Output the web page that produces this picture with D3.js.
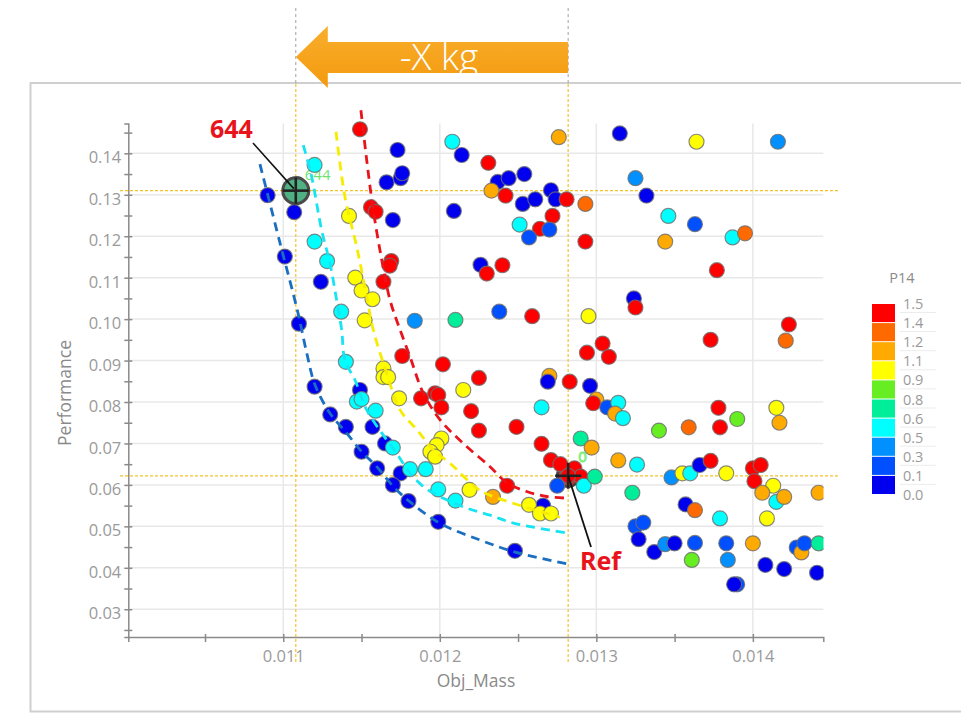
<!DOCTYPE html>
<html lang="en">
<head>
<meta charset="UTF-8">
<title>Performance vs Obj_Mass</title>
<script src="https://d3js.org/d3.v7.min.js"></script>
<style>
  body { margin: 0; background: #fff; }
  svg { display: block; font-family: "Open Sans", "Noto Sans", sans-serif; }
</style>
</head>
<body>
<div id="chart"></div>
<script>
// ---- data ----
var mass = [0.01149,0.01173,0.01208,0.01214,0.01231,0.01120,0.01166,0.01175,0.01176,0.01090,
  0.01109,0.01107,0.01142,0.01156,0.01159,0.01170,0.01209,0.01120,0.01101,0.01128,
  0.01169,0.01168,0.01124,0.01146,0.01150,0.01157,0.01164,0.01226,0.01230,0.01240,
  0.01137,0.01152,0.01110,0.01184,0.01210,0.01140,0.01176,0.01202,0.01225,0.01164,
  0.01164,0.01167,0.01120,0.01149,0.01147,0.01150,0.01174,0.01215,0.01188,0.01197,
  0.01199,0.01201,0.01220,0.01225,0.01159,0.01130,0.01140,0.01157,0.01165,0.01170,
  0.01201,0.01198,0.01194,0.01197,0.01150,0.01160,0.01175,0.01181,0.01191,0.01170,
  0.01199,0.01219,0.01234,0.01180,0.01210,0.01199,0.01259,0.01304,0.01294,0.01308,
  0.01270,0.01269,0.01283,0.01296,0.01300,0.01298,0.01307,0.01314,0.01312,0.01317,
  0.01265,0.01249,0.01265,0.01290,0.01297,0.01271,0.01277,0.01286,0.01290,0.01282,
  0.01275,0.01292,0.01299,0.01314,0.01326,0.01323,0.01243,0.01266,0.01257,0.01264,
  0.01271,0.01248,0.01325,0.01330,0.01327,0.01373,0.01421,0.01340,0.01359,0.01378,
  0.01379,0.01390,0.01415,0.01417,0.01348,0.01355,0.01360,0.01366,0.01373,0.01383,
  0.01400,0.01405,0.01401,0.01413,0.01406,0.01415,0.01420,0.01442,0.01357,0.01363,
  0.01379,0.01409,0.01337,0.01344,0.01350,0.01363,0.01383,0.01384,0.01361,0.01400,
  0.01428,0.01431,0.01433,0.01442,0.01408,0.01420,0.01441,0.01390,0.01388,0.01276,
  0.01315,0.01364,0.01416,0.01237,0.01244,0.01254,0.01233,0.01242,0.01271,0.01274,
  0.01281,0.01293,0.01253,0.01261,0.01272,0.01251,0.01264,0.01270,0.01257,0.01293,
  0.01325,0.01332,0.01346,0.01363,0.01344,0.01387,0.01395,0.01377,0.01324,0.01325,
  0.01238,0.01295,0.01423];

var perf = [0.1458,0.1408,0.1428,0.1396,0.1377,0.1372,0.1330,0.1340,0.1352,0.1299,
  0.1326,0.1258,0.1249,0.1270,0.1259,0.1239,0.1261,0.1187,0.1151,0.1140,
  0.1140,0.1129,0.1090,0.1100,0.1069,0.1048,0.1090,0.1131,0.1110,0.1130,
  0.1018,0.0997,0.0989,0.0996,0.0998,0.0897,0.0911,0.0891,0.0858,0.0881,
  0.0860,0.0860,0.0837,0.0829,0.0801,0.0807,0.0809,0.0829,0.0809,0.0821,
  0.0817,0.0787,0.0778,0.0731,0.0779,0.0770,0.0740,0.0740,0.0700,0.0690,
  0.0712,0.0696,0.0680,0.0668,0.0680,0.0640,0.0628,0.0638,0.0638,0.0600,
  0.0589,0.0588,0.0571,0.0561,0.0562,0.0511,0.1007,0.0941,0.0919,0.0909,
  0.0863,0.0849,0.0849,0.0839,0.0806,0.0797,0.0787,0.0798,0.0772,0.0761,
  0.0787,0.0740,0.0699,0.0712,0.0690,0.0660,0.0650,0.0640,0.0620,0.0622,
  0.0598,0.0598,0.0620,0.0659,0.0649,0.0581,0.0598,0.0550,0.0552,0.0531,
  0.0531,0.0441,0.0500,0.0509,0.0469,0.0950,0.0948,0.0731,0.0739,0.0786,
  0.0739,0.0759,0.0786,0.0750,0.0618,0.0628,0.0628,0.0648,0.0658,0.0628,
  0.0640,0.0648,0.0609,0.0598,0.0581,0.0559,0.0571,0.0581,0.0553,0.0539,
  0.0519,0.0519,0.0438,0.0457,0.0459,0.0460,0.0459,0.0419,0.0419,0.0459,
  0.0449,0.0437,0.0459,0.0459,0.0407,0.0397,0.0388,0.0360,0.0360,0.1439,
  0.1448,0.1428,0.1428,0.1331,0.1340,0.1350,0.1310,0.1298,0.1311,0.1289,
  0.1289,0.1278,0.1278,0.1289,0.1249,0.1228,0.1218,0.1216,0.1197,0.1187,
  0.1340,0.1298,0.1249,0.1229,0.1187,0.1197,0.1207,0.1118,0.1050,0.1028,
  0.1018,0.1007,0.0987];

var p14 = [1.45,0.05,0.5,0.05,1.45,0.5,0.05,0.05,0.05,0.05,
  0.7,0.05,1.0,1.45,1.45,0.05,0.05,0.5,0.05,0.5,
  1.45,1.45,0.05,1.0,1.0,1.0,1.45,0.05,1.45,1.45,
  0.5,1.0,0.05,0.4,0.7,0.5,1.45,1.45,1.45,1.0,
  1.0,1.0,0.05,0.05,0.5,0.5,1.0,1.0,1.45,1.45,
  1.45,1.45,1.45,1.45,0.5,0.05,0.05,0.05,0.05,0.5,
  1.0,1.0,1.0,1.0,0.05,0.05,0.05,0.5,0.5,0.05,
  0.5,1.0,1.1,0.05,0.5,0.05,1.45,1.45,1.45,1.45,
  1.1,0.05,1.45,0.05,1.1,1.45,0.2,0.5,1.1,0.5,
  0.5,1.45,1.45,0.7,1.1,1.45,1.45,1.45,1.45,1.45,
  0.2,0.5,0.7,1.1,0.5,0.7,1.45,0.05,1.0,1.0,
  1.0,0.05,0.2,0.2,0.05,1.45,1.3,0.8,1.3,1.45,
  1.45,0.8,1.0,1.1,0.4,1.0,0.5,0.05,1.45,1.0,
  1.45,1.45,1.45,1.0,1.1,0.5,1.1,1.1,0.05,1.3,
  0.5,1.0,0.05,0.4,0.05,0.2,0.2,0.4,0.8,1.1,
  0.2,1.1,0.2,0.7,0.05,0.05,0.05,0.2,0.05,1.1,
  0.05,1.0,0.4,0.05,0.05,0.05,1.1,1.45,0.05,0.05,
  1.45,1.3,0.05,0.05,1.45,0.5,1.45,0.2,0.2,1.45,
  0.4,0.05,0.5,0.2,1.1,0.5,1.3,1.45,0.05,1.45,
  0.2,1.0,1.45];

// dashed fronts
var front1Mass = [0.010851,0.010979,0.011094,0.01115,0.011203,0.011298,0.011405,0.011501,0.011597,0.011703,0.01181,0.012002,0.012257,0.012481,0.012843];
var front1Perf = [0.1374,0.1184,0.1015,0.0918,0.0841,0.0773,0.0725,0.0680,0.0644,0.0596,0.0559,0.0507,0.0467,0.0438,0.0407];
var front2Mass = [0.011128,0.011181,0.011245,0.011298,0.011341,0.011373,0.011394,0.011458,0.011533,0.011639,0.011725,0.01181,0.011916,0.012044,0.012172,0.012321,0.01247,0.012832];
var front2Perf = [0.1420,0.1344,0.1215,0.1135,0.1046,0.0974,0.0901,0.0853,0.0781,0.0720,0.0676,0.0628,0.0590,0.0564,0.0544,0.0527,0.0508,0.0483];
var front3Mass = [0.011337,0.011394,0.011469,0.011533,0.011575,0.011661,0.011746,0.011861,0.011959,0.012066,0.012236,0.012321,0.012577,0.012768];
var front3Perf = [0.1452,0.1295,0.1175,0.1054,0.0974,0.0869,0.0781,0.0730,0.0684,0.0652,0.0592,0.0575,0.0543,0.0522];
var front4Mass = [0.011496,0.011533,0.011575,0.011629,0.011682,0.011735,0.01181,0.011895,0.012002,0.01215,0.012321,0.012428,0.012555,0.012683,0.012813];
var front4Perf = [0.1504,0.1384,0.1263,0.1143,0.1046,0.0986,0.0909,0.0821,0.0757,0.0700,0.0644,0.0605,0.0584,0.0572,0.0568];

// highlighted designs
var optMass = 0.01108, optPerf = 0.1310;   // "644"
var refMass = 0.01282, refPerf = 0.0622;   // "Ref"

// ticks and legend
var xTicks = [0.011, 0.012, 0.013, 0.014];
var yTicks = [0.03, 0.04, 0.05, 0.06, 0.07, 0.08, 0.09, 0.10, 0.11, 0.12, 0.13, 0.14];
var legendLabels = ["1.5", "1.4", "1.2", "1.1", "0.9", "0.8", "0.6", "0.5", "0.3", "0.1", "0.0"];
var palette = ["#0000ee", "#0050ff", "#0090ff", "#00ffff", "#00ee99", "#66ee22", "#ffff00", "#ffaa00", "#ff6a00", "#ff0000"];

// ---- layout ----
var width = 961, height = 714;
var svg = d3.select("#chart").append("svg")
  .attr("width", width)
  .attr("height", height);

var x = d3.scaleLinear().domain([0.01001, 0.01445]).range([128.3, 823.3]);
var y = d3.scaleLinear().domain([0.0233, 0.1472]).range([637, 123.5]);
var color = d3.scaleQuantize().domain([0, 1.5]).range(palette);

var defs = svg.append("defs");
defs.append("clipPath").attr("id", "plotclip")
  .append("rect").attr("x", 128).attr("y", 90).attr("width", 695.5).attr("height", 560);
var grad = defs.append("linearGradient").attr("id", "arrowgrad")
  .attr("x1", 0).attr("y1", 0).attr("x2", 0).attr("y2", 1);
grad.append("stop").attr("offset", "0%").attr("stop-color", "#f9ae2c");
grad.append("stop").attr("offset", "100%").attr("stop-color", "#f39a0e");

// panel frame
svg.append("rect")
  .attr("x", 30.5).attr("y", 83)
  .attr("width", 945).attr("height", 628.5)
  .attr("fill", "none")
  .attr("stroke", "#cfcfcf")
  .attr("stroke-width", 2);

// grid
svg.append("g").selectAll("line").data(yTicks).enter().append("line")
  .attr("x1", x.range()[0]).attr("x2", x.range()[1])
  .attr("y1", function (d) { return y(d); })
  .attr("y2", function (d) { return y(d); })
  .attr("stroke", "#e8e8e8").attr("stroke-width", 1.5);
svg.append("g").selectAll("line").data(xTicks).enter().append("line")
  .attr("x1", function (d) { return x(d); })
  .attr("x2", function (d) { return x(d); })
  .attr("y1", y.range()[1]).attr("y2", y.range()[0])
  .attr("stroke", "#e8e8e8").attr("stroke-width", 1.5);

// axes (major + minor ticks)
var yAll = yTicks.concat(yTicks.map(function (d) { return d - 0.005; }), [0.145]);
var yAxis = svg.append("g")
  .attr("transform", "translate(" + x.range()[0] + ",0)")
  .call(d3.axisLeft(y).tickValues(yAll).tickSize(4)
    .tickFormat(function (d) { return yTicks.indexOf(d) >= 0 ? d3.format(".2f")(d) : ""; }));
yAxis.select(".domain").attr("stroke", "#8a8a8a").attr("stroke-width", 1.5);
yAxis.selectAll(".tick line").attr("x1", 4).attr("stroke", "#8a8a8a").attr("stroke-width", 1.5);
yAxis.selectAll(".tick text").attr("x", -7).attr("dy", "0.58em")
  .style("font-size", "16.5px").style("font-family", "'Open Sans', sans-serif").attr("fill", "#9a9a9a");

var xAll = xTicks.concat(xTicks.map(function (d) { return d - 0.0005; }));
var xAxis = svg.append("g")
  .attr("transform", "translate(0," + y.range()[0] + ")")
  .call(d3.axisBottom(x).tickValues(xAll).tickSize(5)
    .tickFormat(function (d) { return xTicks.indexOf(d) >= 0 ? d3.format(".3f")(d) : ""; }));
xAxis.select(".domain").attr("stroke", "#8a8a8a").attr("stroke-width", 1.5);
xAxis.selectAll(".tick line").attr("y1", -3).attr("stroke", "#8a8a8a").attr("stroke-width", 1.5);
xAxis.selectAll(".tick text").attr("y", 13)
  .style("font-size", "16.5px").style("font-family", "'Open Sans', sans-serif").attr("fill", "#9a9a9a");

// axis titles
svg.append("text")
  .attr("x", 476).attr("y", 687)
  .attr("text-anchor", "middle")
  .style("font-size", "17.5px").attr("fill", "#8a8a8a")
  .text("Obj_Mass");
svg.append("text")
  .attr("transform", "translate(71,393) rotate(-90)")
  .attr("text-anchor", "middle")
  .style("font-size", "17.5px").attr("fill", "#8a8a8a")
  .text("Performance");

// guide lines through the two designs
var guides = svg.append("g");
[optMass, refMass].forEach(function (m) {
  guides.append("line")
    .attr("x1", x(m)).attr("x2", x(m)).attr("y1", 8).attr("y2", 83)
    .attr("stroke", "#a0a0a0").attr("stroke-width", 1).attr("stroke-dasharray", "3,3");
  guides.append("line")
    .attr("x1", x(m)).attr("x2", x(m)).attr("y1", 84).attr("y2", 663)
    .attr("stroke", "#f2c42a").attr("stroke-width", 1.2).attr("stroke-dasharray", "3,2");
});
[optPerf, refPerf].forEach(function (p) {
  guides.append("line")
    .attr("x1", 120).attr("x2", 840).attr("y1", y(p)).attr("y2", y(p))
    .attr("stroke", "#f2c42a").attr("stroke-width", 1.2).attr("stroke-dasharray", "3,2");
});

// small labels beside the designs
svg.append("text")
  .attr("x", x(optMass) + 9).attr("y", y(optPerf) - 11)
  .style("font-size", "15px").attr("fill", "#55dd55").attr("opacity", 0.85)
  .text("644");
svg.append("text")
  .attr("x", x(refMass) + 10).attr("y", y(refPerf) - 14)
  .style("font-size", "15px").attr("fill", "none").attr("stroke", "#77ee77").attr("stroke-width", 1)
  .text("0");

// Ref marker below the points
svg.append("circle")
  .attr("cx", x(refMass)).attr("cy", y(refPerf)).attr("r", 11)
  .attr("fill", "#b33").attr("stroke", "#444").attr("stroke-width", 2.5);

// points
var idx = d3.range(mass.length);
svg.append("g").attr("clip-path", "url(#plotclip)")
  .selectAll("circle").data(idx).enter().append("circle")
  .attr("cx", function (i) { return x(mass[i]); })
  .attr("cy", function (i) { return y(perf[i]); })
  .attr("r", 7.5)
  .attr("fill", function (i) { return color(p14[i]); })
  .attr("stroke", "#6e6e6e")
  .attr("stroke-opacity", 0.8)
  .attr("stroke-width", 1.2);

// dashed fronts
var line = d3.line()
  .x(function (d) { return x(d[0]); })
  .y(function (d) { return y(d[1]); })
  .curve(d3.curveCatmullRom.alpha(0.5));
var fronts = [
  [front1Mass, front1Perf, "#1a6fc0"],
  [front2Mass, front2Perf, "#16e4f2"],
  [front3Mass, front3Perf, "#f6ec00"],
  [front4Mass, front4Perf, "#e8141b"]
];
fronts.forEach(function (f) {
  svg.append("path")
    .datum(d3.zip(f[0], f[1]))
    .attr("d", line)
    .attr("fill", "none")
    .attr("stroke", f[2])
    .attr("stroke-width", 2.8)
    .attr("stroke-dasharray", "9,6");
});

// 644 marker on top
var ox = x(optMass), oy = y(optPerf);
svg.append("circle")
  .attr("cx", ox).attr("cy", oy).attr("r", 13)
  .attr("fill", "#4fb083").attr("stroke", "#4a4a4a").attr("stroke-width", 3);
function cross(cx, cy) {
  svg.append("line").attr("x1", cx - 13).attr("x2", cx + 13).attr("y1", cy).attr("y2", cy)
    .attr("stroke", "#222").attr("stroke-width", 2.6);
  svg.append("line").attr("x1", cx).attr("x2", cx).attr("y1", cy - 13).attr("y2", cy + 13)
    .attr("stroke", "#222").attr("stroke-width", 2.6);
}
cross(ox, oy);
var rx = x(refMass), ry = y(refPerf);
cross(rx, ry);

// callouts
svg.append("line")
  .attr("x1", 253).attr("y1", 143).attr("x2", ox - 2).attr("y2", oy - 2)
  .attr("stroke", "#111").attr("stroke-width", 1.6);
svg.append("text")
  .attr("x", 210).attr("y", 138)
  .style("font-family", "'Noto Sans', sans-serif").style("font-size", "25px").style("font-weight", "bold")
  .attr("fill", "#e8141b")
  .text("644");
svg.append("line")
  .attr("x1", 591).attr("y1", 547).attr("x2", rx).attr("y2", ry)
  .attr("stroke", "#111").attr("stroke-width", 1.8);
svg.append("text")
  .attr("x", 580).attr("y", 570)
  .style("font-family", "'Noto Sans', sans-serif").style("font-size", "25px").style("font-weight", "bold")
  .attr("fill", "#e8141b")
  .text("Ref");

// mass-saving arrow
var ax0 = x(optMass), ax1 = x(refMass), headW = 32;
var arrowPts = [
  [ax0, 57], [ax0 + headW, 26], [ax0 + headW, 42], [ax1, 42],
  [ax1, 73], [ax0 + headW, 73], [ax0 + headW, 88]
];
svg.append("polygon")
  .attr("points", arrowPts.map(function (p) { return p.join(","); }).join(" "))
  .attr("fill", "url(#arrowgrad)");
svg.append("text")
  .attr("x", (ax0 + headW + ax1) / 2 - 9).attr("y", 70)
  .attr("text-anchor", "middle")
  .style("font-size", "37px").style("font-weight", 300)
  .attr("fill", "#fff")
  .text("-X kg");

// legend
var lg = svg.append("g").attr("transform", "translate(872,304)");
var pitch = 19.1;
lg.append("text")
  .attr("x", 30).attr("y", -21)
  .attr("text-anchor", "middle")
  .style("font-size", "14.5px").attr("fill", "#8a8a8a")
  .text("P14");
lg.selectAll("rect").data(palette.slice().reverse()).enter().append("rect")
  .attr("x", 0).attr("y", function (d, i) { return i * pitch; })
  .attr("width", 23).attr("height", pitch - 1)
  .attr("fill", function (d) { return d; });
lg.selectAll("line.sep").data(legendLabels.slice(0, -1)).enter().append("line")
  .attr("class", "sep")
  .attr("x1", 28).attr("x2", 64)
  .attr("y1", function (d, i) { return i * pitch + 8.5; })
  .attr("y2", function (d, i) { return i * pitch + 8.5; })
  .attr("stroke", "#ececec").attr("stroke-width", 1);
lg.selectAll("text.lab").data(legendLabels).enter().append("text")
  .attr("class", "lab")
  .attr("x", 31).attr("y", function (d, i) { return i * pitch + 5; })
  .style("font-size", "14.5px").attr("fill", "#9a9a9a")
  .text(function (d) { return d; });
</script>
</body>
</html>
